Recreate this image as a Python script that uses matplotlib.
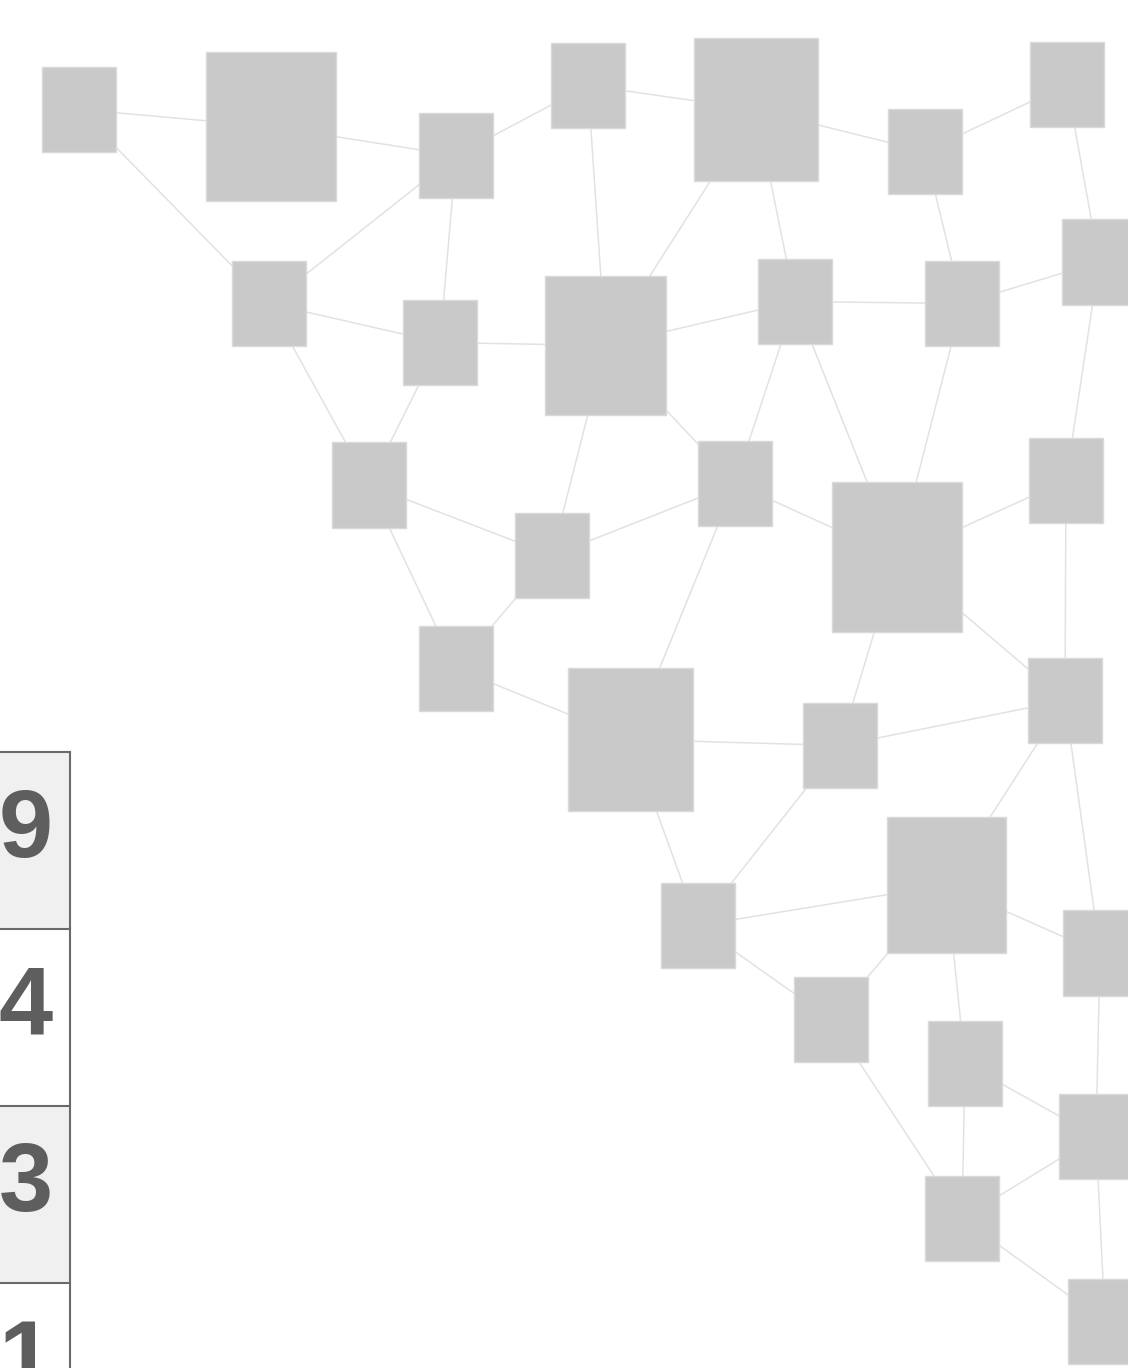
import matplotlib
matplotlib.use("Agg")
import matplotlib.pyplot as plt
from matplotlib.patches import Rectangle

# Node data (pixel centres, box width)
node_names = ["A", "B", "C", "D", "E", "F", "G", "H", "I", "J", "K", "L", "M", "N", "O",
              "P", "Q", "R", "S", "T", "U", "V", "W", "X", "Y", "Z", "AA", "AB", "AC", "AD"]
node_x = [79, 271, 456, 588, 756, 925, 1067, 1099, 269, 440, 605.5, 795, 962, 369, 552,
          735, 897, 1066, 456, 630.5, 840, 1065, 946.5, 698, 1100, 831, 965, 1096, 962, 1105]
node_y = [109.5, 126.5, 155.5, 85.5, 109.5, 151.5, 84.5, 262, 303.5, 342.5, 345.5, 301.5, 303.5, 485, 555.5,
          483.5, 557, 480.5, 668.5, 739.5, 745.5, 700.5, 885, 925.5, 953, 1019.5, 1063.5, 1136.5, 1218.5, 1321.5]
node_w = [74, 130, 74, 74, 124, 74, 74, 74, 74, 74, 121, 74, 74, 74, 74,
          74, 130, 74, 74, 125, 74, 74, 119, 74, 74, 74, 74, 74, 74, 74]

edges = [("A", "B"), ("A", "I"), ("B", "C"), ("C", "D"), ("C", "I"), ("C", "J"),
         ("D", "E"), ("D", "K"), ("E", "F"), ("E", "K"), ("E", "L"), ("F", "G"),
         ("F", "M"), ("G", "H"), ("H", "M"), ("H", "R"), ("I", "J"), ("I", "N"),
         ("J", "K"), ("J", "N"), ("K", "L"), ("K", "P"), ("K", "O"), ("L", "M"),
         ("L", "P"), ("L", "Q"), ("M", "Q"), ("N", "O"), ("N", "S"), ("O", "P"),
         ("O", "S"), ("P", "Q"), ("P", "T"), ("Q", "R"), ("Q", "U"), ("Q", "V"),
         ("R", "V"), ("S", "T"), ("T", "U"), ("T", "X"), ("U", "V"), ("U", "X"),
         ("V", "W"), ("V", "Y"), ("W", "X"), ("W", "Z"), ("W", "Y"), ("W", "AA"),
         ("X", "Z"), ("Z", "AC"), ("AA", "AB"), ("AA", "AC"), ("Y", "AB"),
         ("AB", "AC"), ("AB", "AD"), ("AC", "AD")]

# Table on the left edge
table_values = ["9", "4", "3", "1"]
table_top = 752
row_h = 177
table_right = 70

fig = plt.figure(figsize=(11.28, 13.68), dpi=100)
ax = fig.add_axes([0, 0, 1, 1])
ax.set_xlim(0, 1128)
ax.set_ylim(1368, 0)
ax.axis("off")

pos = {n: (x, y) for n, x, y in zip(node_names, node_x, node_y)}

for a, b in edges:
    xa, ya = pos[a]
    xb, yb = pos[b]
    ax.plot([xa, xb], [ya, yb], color="#e2e2e2", lw=1.1, zorder=1, solid_capstyle="butt")

for n, x, y, w in zip(node_names, node_x, node_y, node_w):
    h = w * 1.15
    ax.add_patch(Rectangle((x - w / 2, y - h / 2), w, h, facecolor="#c9c9c9",
                           edgecolor="#dadada", lw=1.0, zorder=2))

# table rows
for i, val in enumerate(table_values):
    top = table_top + i * row_h
    fill = "#f0f0f0" if i % 2 == 0 else "white"
    ax.add_patch(Rectangle((-10, top), table_right + 10, row_h, facecolor=fill,
                           edgecolor="none", zorder=3))
    ax.plot([-10, table_right], [top, top], color="#6a6a6a", lw=1.5, zorder=4)
    ax.text(53, top + 105, val, ha="right", va="baseline", fontsize=70,
            fontweight="bold", family=["Liberation Sans", "DejaVu Sans"],
            color="#5e5e5e", zorder=5)

ax.plot([table_right, table_right], [table_top, 1370], color="#6a6a6a", lw=1.5, zorder=4)

fig.savefig("out.png", dpi=100)
